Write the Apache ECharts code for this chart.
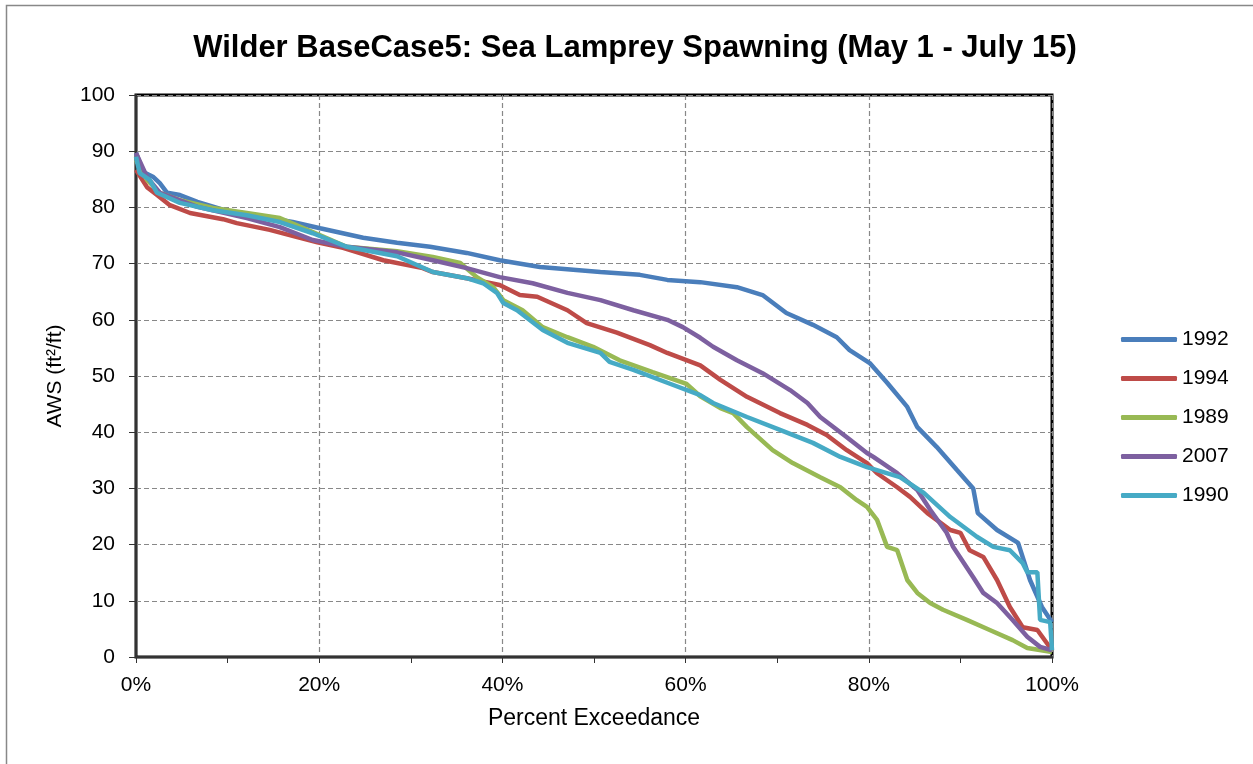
<!DOCTYPE html>
<html><head><meta charset="utf-8">
<script src="https://cdn.jsdelivr.net/npm/echarts@6/dist/echarts.min.js"></script>
<style>html,body{margin:0;padding:0;background:#fff}#c{width:1253px;height:764px}</style>
</head><body><div id="c"></div>
<script>
const seriesNames = ['1992','1994','1989','2007','1990'];
const colors = ['#4A7EBB','#BE4B48','#98B954','#7D60A0','#46AAC5'];
const xTicks = [0,20,40,60,80,100];
const yTicks = [0,10,20,30,40,50,60,70,80,90,100];

const d1992 = [[0,89.7],[0.8,86.3],[1.9,85.4],[2.6,84.3],[3.4,82.6],[4.8,82.2],[6.7,81],[10.3,79.2],[13.9,78.3],[17.1,77.4],[20.1,76.3],[24.8,74.6],[28.5,73.7],[32.1,73],[36.1,71.9],[39.7,70.6],[44.1,69.4],[50.7,68.5],[55,68],[58,67.1],[61.6,66.7],[65.6,65.8],[68.4,64.4],[71,61.2],[73.9,59.1],[76.5,56.9],[77.9,54.6],[80.1,52.3],[82,48.8],[84.2,44.5],[85.3,40.9],[87.4,37.4],[89.6,33.3],[91.4,30],[91.9,25.6],[94,22.6],[96.3,20.3],[97.6,13.7],[98.9,8.9],[100,6.2]];
const d1994 = [[0,86.7],[1.2,83.6],[2.3,82.2],[3.7,80.4],[5.9,79],[9.5,77.9],[11,77.2],[14.6,76],[17.6,74.7],[19.8,73.8],[22.6,72.8],[27,70.6],[31.3,69.2],[32.4,68.5],[36.1,67.4],[39.7,66.2],[41.9,64.4],[43.8,64.1],[47.1,61.7],[49.2,59.4],[52.5,57.7],[56.1,55.5],[58,54.1],[61.6,51.9],[63.8,49.3],[66.7,46.3],[70.3,43.4],[73.3,41.3],[75.4,39.5],[77.6,36.8],[79.8,34.5],[80.9,32.7],[83.1,30.2],[84.5,28.5],[86.4,25.6],[88.9,22.6],[90,22.1],[91,19],[92.5,17.8],[94,13.7],[95.4,8.9],[96.8,5.3],[98.4,4.8],[100,1.2]];
const d1989 = [[0,88.4],[1.2,84.9],[2.6,82.6],[4.8,81.3],[8.4,79.9],[12.1,79],[15.7,78.1],[19.3,75.6],[23,73],[28.5,72.2],[32.4,71.2],[35.4,70.1],[37.2,67.6],[39,65.8],[40.1,63.5],[42.2,61.7],[44.4,58.7],[47.1,56.9],[49.9,55.2],[52.8,52.8],[56.4,50.7],[60.1,48.6],[61.6,46.4],[63.8,44.3],[65.2,43.4],[66.7,40.9],[69.5,36.8],[71.7,34.5],[74.7,32],[76.9,30.2],[78.7,27.9],[79.8,26.7],[80.9,24.4],[82,19.6],[83.1,19],[84.2,13.7],[85.3,11.4],[86.7,9.6],[88.1,8.4],[90.7,6.6],[93.2,4.8],[95.7,3],[97.3,1.6],[100,0.9]];
const d2007 = [[0,89.7],[1.2,85.4],[2.6,82.6],[6.7,80.1],[12.1,78.1],[15.7,76.5],[19.3,74.2],[23,73],[28.5,72],[32.4,70.6],[36.1,69.2],[39.7,67.6],[43.3,66.5],[47.1,64.8],[50.7,63.5],[54.3,61.7],[58,60],[59.7,58.7],[61.6,56.8],[63,55.2],[65.6,52.8],[68.4,50.5],[71.4,47.5],[73.3,45.2],[74.7,42.7],[77.6,39.1],[79.8,36.3],[80.5,35.6],[83.1,32.7],[85.3,29.7],[86.7,26.2],[88.5,22.1],[89.2,19.6],[91.4,14.2],[92.5,11.4],[94,9.6],[95.7,6.6],[97.3,3.6],[98.7,1.8],[100,1.2]];
const d1990 = [[0,89],[0.4,86.1],[1.5,84.9],[2.3,82.6],[4.8,80.8],[8.4,79.5],[12.1,78.6],[15.7,77.4],[19.3,75.4],[23,73],[28.5,71.3],[32.4,68.5],[36.1,67.4],[37.9,66.5],[39.4,64.8],[40.1,63],[41.6,61.7],[44.4,58.2],[47.1,55.9],[50.7,54.1],[51.7,52.5],[54.3,51.1],[58,48.8],[61.6,46.6],[63,45.2],[66.7,42.7],[70.3,40.4],[73.9,38.1],[76.9,35.6],[79.8,33.8],[83.4,32],[86,29.2],[88.9,24.9],[91.8,21.4],[93.6,19.6],[95.4,19],[96.8,16.7],[97.3,15.1],[98.4,15.1],[98.7,6.6],[99.8,6.2],[100,1.2]];
const allData = [d1992,d1994,d1989,d2007,d1990];

const chart = echarts.init(document.getElementById('c'));
const FONT = '"Liberation Sans", Arial, sans-serif';
chart.setOption({
  backgroundColor:'#fff',
  animation:false,
  title:{text:'Wilder BaseCase5: Sea Lamprey Spawning (May 1 - July 15)',left:630,textAlign:'center',top:28,
    textStyle:{fontFamily:FONT,fontSize:31,fontWeight:'bold',color:'#000'}},
  graphic:[{type:'rect',shape:{x:6.5,y:5.5,width:1260,height:780},style:{fill:'none',stroke:'#888',lineWidth:1.5},silent:true,z:-10}],
  grid:{left:136,top:95,right:201,bottom:107,show:true,borderColor:'#000',borderWidth:3,backgroundColor:'transparent'},
  legend:{orient:'vertical',left:1116,top:324,itemWidth:56,itemHeight:5,itemGap:18,icon:'roundRect',
    textStyle:{fontFamily:FONT,fontSize:21,color:'#000'},data:seriesNames},
  xAxis:{type:'value',min:0,max:100,interval:20,name:'Percent Exceedance',nameLocation:'middle',nameGap:50,
    nameTextStyle:{fontFamily:FONT,fontSize:23,color:'#000'},
    axisLine:{show:true,lineStyle:{color:'#333',width:2}},
    axisTick:{show:true,length:6,lineStyle:{color:'#333'}},
    minorTick:{show:true,splitNumber:2,length:6,lineStyle:{color:'#333'}},
    axisLabel:{fontFamily:FONT,fontSize:21,color:'#000',margin:18,formatter:v=>xTicks.includes(v)?v+'%':''},
    splitLine:{show:true,lineStyle:{color:'#888',type:[5,3],width:1.2}}},
  yAxis:{type:'value',min:0,max:100,interval:10,name:'AWS (ft²/ft)',nameLocation:'middle',nameGap:70,
    nameTextStyle:{fontFamily:FONT,fontSize:21,color:'#000'},
    axisLine:{show:true,lineStyle:{color:'#333',width:2}},
    axisTick:{show:true,length:7,lineStyle:{color:'#333'}},
    axisLabel:{fontFamily:FONT,fontSize:21,color:'#000',margin:21,formatter:v=>yTicks.includes(v)?String(v):''},
    splitLine:{show:true,lineStyle:{color:'#888',type:[5,3],width:1.2}}},
  series:seriesNames.map((n,i)=>({name:n,type:'line',data:allData[i],symbol:'none',
    lineStyle:{color:colors[i],width:4.5},itemStyle:{color:colors[i]},z:2+i}))
});
</script></body></html>
